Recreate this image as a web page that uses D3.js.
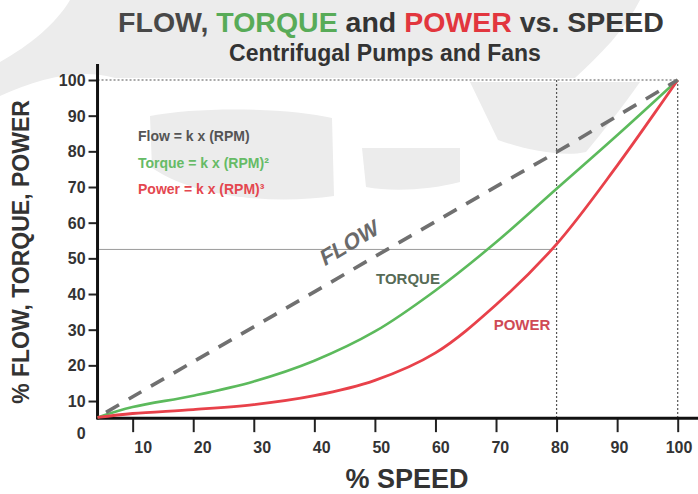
<!DOCTYPE html>
<html>
<head>
<meta charset="utf-8">
<script src="https://cdn.jsdelivr.net/npm/d3@7"></script>
<style>
  html, body { margin: 0; padding: 0; background: #fff; }
  svg { display: block; font-family: "Liberation Sans", Arial, Helvetica, sans-serif; }
</style>
</head>
<body>
<svg id="chart" width="698" height="494"></svg>
<script>
// ---- data ----
const speeds  = [4.2, 10, 20, 30, 40, 50, 60, 70, 80, 90, 100];
const flow    = [5.4, 11.2, 21, 30.8, 40.6, 50.5, 60.3, 70.1, 79.8, 89.9, 100];
const torque  = [5.4, 8.3, 11.5, 15.5, 21.3, 29.5, 41, 54.5, 69.5, 84.5, 100];
const power   = [5.4, 6.5, 7.6, 9.0, 11.5, 15.8, 23.5, 37, 54, 76, 100];
const xTicks  = [10, 20, 30, 40, 50, 60, 70, 80, 90, 100];
const yTicks  = [0, 10, 20, 30, 40, 50, 60, 70, 80, 90, 100];
const axisCross = [4.2, 5.2];          // speed, value where the axes meet
const refSpeeds = [80, 100];           // vertical dotted guides
const refLevels = [52.5, 100];         // horizontal guides
const legendLines = ["Flow = k x (RPM)", "Torque = k x (RPM)\u00B2", "Power = k x (RPM)\u00B3"];

const svg = d3.select("#chart");
const W = 698, H = 494;

const colFlow = "#707070", colTorque = "#5cba5c", colPower = "#e8414a";

// ---- faint watermark background ----
const wm = svg.append("g").attr("fill", "#ececec");
wm.append("path").attr("d", "M70,0 H640 C 625,30 600,55 575,78 H 115 C 80,68 40,78 0,96 V 62 C 30,45 55,25 70,0 Z");
wm.append("path").attr("d", "M150,116 C 200,106 290,108 332,118 L 334,196 C 280,204 200,200 152,168 Z");
wm.append("path").attr("d", "M362,148 H460 V182 C 430,190 392,192 366,187 Z");
wm.append("path").attr("d", "M470,82 H640 C 622,108 604,130 586,152 C 560,158 520,148 498,140 Z");

// ---- scales ----
const x  = d3.scaleLinear().domain([0, 100]).range([72.1, 677.7]);
const xl = d3.scaleLinear().domain([0, 100]).range([83.6, 679]);   // label positions
const y  = d3.scaleLinear().domain([0, 100]).range([436.7, 80]);

const x0 = x(axisCross[0]), y0 = y(axisCross[1]);

// ---- guides ----
const guides = svg.append("g");
guides.append("line")
  .attr("x1", x0).attr("x2", x(refSpeeds[0]))
  .attr("y1", y(refLevels[0])).attr("y2", y(refLevels[0]))
  .attr("stroke", "#9a9a9a").attr("stroke-width", 1);
guides.append("line")
  .attr("x1", x0).attr("x2", x(refSpeeds[1]))
  .attr("y1", y(refLevels[1])).attr("y2", y(refLevels[1]))
  .attr("stroke", "#555").attr("stroke-width", 1.2).attr("stroke-dasharray", "2,2");
guides.selectAll("line.v").data(refSpeeds).enter().append("line")
  .attr("class", "v")
  .attr("x1", d => x(d)).attr("x2", d => x(d))
  .attr("y1", y(refLevels[1])).attr("y2", y0)
  .attr("stroke", "#555").attr("stroke-width", 1.2).attr("stroke-dasharray", "2,2");

// ---- axes ----
const xAxis = d3.axisBottom(x).tickValues(xTicks).tickSize(14).tickFormat("");
const gx = svg.append("g").attr("transform", `translate(0,${y0})`).call(xAxis);
gx.select(".domain").remove();
gx.selectAll(".tick line").attr("stroke", "#222").attr("stroke-width", 2);
svg.append("g").selectAll("text").data(xTicks).enter().append("text")
  .attr("x", d => xl(d)).attr("y", y0 + 35)
  .attr("text-anchor", "middle")
  .attr("font-size", 16).attr("font-weight", "bold").attr("fill", "#333")
  .text(d => d);
svg.append("line").attr("x1", x0 - 1).attr("x2", W).attr("y1", y0).attr("y2", y0)
  .attr("stroke", "#111").attr("stroke-width", 3);

const yAxis = d3.axisLeft(y).tickValues(yTicks).tickSize(9).tickPadding(3);
const gy = svg.append("g").attr("transform", `translate(${x0},0)`).call(yAxis);
gy.select(".domain").remove();
gy.selectAll(".tick line").attr("stroke", "#222").attr("stroke-width", 2)
  .attr("display", d => d === 0 ? "none" : null);
gy.selectAll(".tick text")
  .attr("font-size", 16).attr("font-weight", "bold").attr("fill", "#333")
  .attr("font-family", "Liberation Sans, Arial, sans-serif")
  .attr("dy", d => d === 0 ? "0.1em" : "0.35em");
svg.append("line").attr("x1", x0).attr("x2", x0).attr("y1", 64).attr("y2", y0 + 1)
  .attr("stroke", "#111").attr("stroke-width", 3);

// ---- curves ----
const line = d3.line().x(d => x(d[0])).y(d => y(d[1])).curve(d3.curveCatmullRom.alpha(0.5));
const zip = vals => speeds.map((s, i) => [s, vals[i]]);

svg.append("path").datum(zip(torque)).attr("d", line)
  .attr("fill", "none").attr("stroke", colTorque).attr("stroke-width", 2.6);
svg.append("path").datum(zip(power)).attr("d", line)
  .attr("fill", "none").attr("stroke", colPower).attr("stroke-width", 2.8);
svg.append("path").datum(zip(flow)).attr("d", line)
  .attr("fill", "none").attr("stroke", colFlow).attr("stroke-width", 3.6)
  .attr("stroke-dasharray", "15,11").attr("stroke-dashoffset", -10);

// ---- curve labels ----
svg.append("text").attr("transform", `translate(352,250) rotate(-31) skewX(-12)`)
  .attr("text-anchor", "middle").attr("font-size", 22).attr("font-weight", "bold")
  .attr("fill", "#6a6a6a").text("FLOW");
svg.append("text").attr("x", 408).attr("y", 284).attr("text-anchor", "middle")
  .attr("font-size", 15).attr("font-weight", "bold").attr("fill", "#566b56").text("TORQUE");
svg.append("text").attr("x", 522).attr("y", 330).attr("text-anchor", "middle")
  .attr("font-size", 15).attr("font-weight", "bold").attr("fill", "#cf4a55").text("POWER");

// ---- legend formulas ----
const legCols = ["#555", "#66bb66", "#e4474f"];
svg.append("g").selectAll("text").data(legendLines).enter().append("text")
  .attr("x", 138).attr("y", (d, i) => 141 + i * 26.5)
  .attr("font-size", 14).attr("font-weight", "bold")
  .attr("fill", (d, i) => legCols[i]).text(d => d);

// ---- titles ----
const title = svg.append("text").attr("x", 391).attr("y", 32).attr("text-anchor", "middle")
  .attr("font-size", 28.5).attr("font-weight", "bold");
[["FLOW, ", "#484848"], ["TORQUE", "#58ab58"], [" and ", "#333"], ["POWER", "#e2363e"], [" vs. SPEED", "#383838"]]
  .forEach(([t, c]) => title.append("tspan").attr("fill", c).text(t));
svg.append("text").attr("x", 385).attr("y", 61).attr("text-anchor", "middle")
  .attr("font-size", 23).attr("font-weight", "bold").attr("fill", "#333")
  .text("Centrifugal Pumps and Fans");

svg.append("text").attr("transform", "translate(29,252) rotate(-90)")
  .attr("text-anchor", "middle").attr("font-size", 23).attr("font-weight", "bold")
  .attr("fill", "#333").text("% FLOW, TORQUE, POWER");
svg.append("text").attr("x", 407).attr("y", 488).attr("text-anchor", "middle")
  .attr("font-size", 27).attr("font-weight", "bold").attr("fill", "#333").text("% SPEED");
</script>
</body>
</html>
